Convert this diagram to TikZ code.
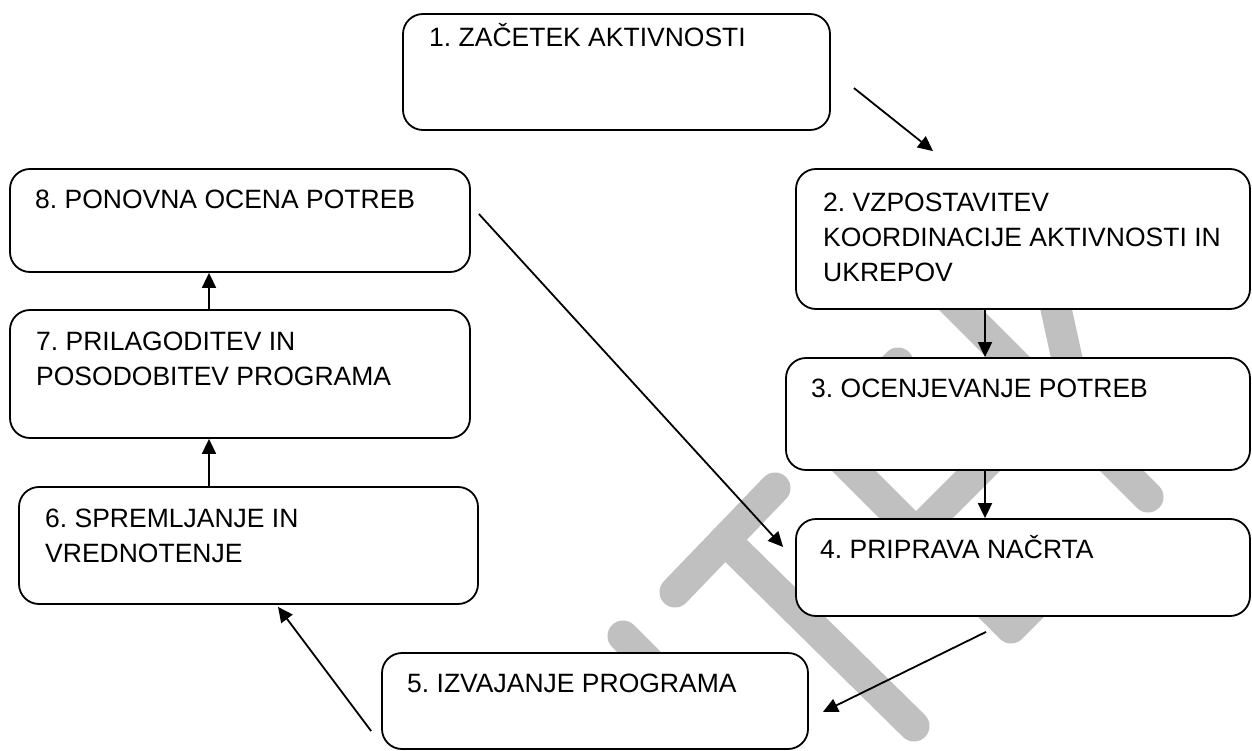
\documentclass[tikz,border=0pt]{standalone}
\usepackage{fontspec}
\setmainfont{Liberation Sans}
\usetikzlibrary{arrows.meta,calc}
\definecolor{wmgrey}{HTML}{C0C0C0}
\begin{document}
\begin{tikzpicture}[x=1pt,y=-1pt,
  box/.style={draw=black, line width=1.8pt, rounded corners=20pt, fill=white, inner sep=0pt},
  lbl/.style={anchor=base west, inner sep=0pt, font=\fontsize{26.5}{34}\selectfont\frenchspacing},
  arr/.style={draw=black, line width=1.8pt, -{Triangle[length=15pt,width=14pt]}},
  wm/.style={draw=wmgrey, line width=31pt, line cap=round, line join=round}]
\fill[white] (0,0) rectangle (1252,751);
\useasboundingbox (0,0) rectangle (1252,751);
% watermark strokes (behind the boxes)
\draw[wm] (675,592) -- (775,488);
\draw[wm] (725,540) -- (914,726);
\draw[wm] (623,636) -- (715,728);
\draw[wm] (898,363) -- (822,439) -- (1011,628) -- (1090,549);
\draw[wm] (916,533) -- (1010,439);
\draw[wm] (940,289) -- (1148,497);
\draw[wm] (1037,222) -- (1083,432) -- (1205,445);
% boxes
\node[box, minimum width=427pt, minimum height=116pt] (b1) at (616.5,72) {};
\node[box, minimum width=454pt, minimum height=140pt] (b2) at (1023,239) {};
\node[box, minimum width=464pt, minimum height=112pt] (b3) at (1018,414) {};
\node[box, minimum width=454pt, minimum height=97pt] (b4) at (1023,567.5) {};
\node[box, minimum width=426pt, minimum height=96pt] (b5) at (595,701) {};
\node[box, minimum width=459pt, minimum height=117pt] (b6) at (248.5,545.5) {};
\node[box, minimum width=460pt, minimum height=128pt] (b7) at (240,374) {};
\node[box, minimum width=460pt, minimum height=103pt] (b8) at (240,220.5) {};
% texts
\node[lbl] (t1) at (429,47) {1. ZAČETEK AKTIVNOSTI};
\node[lbl] (t2a) at (823,212) {2. VZPOSTAVITEV};
\node[lbl] (t2b) at (823,246.5) {KOORDINACIJE AKTIVNOSTI IN};
\node[lbl] (t2c) at (823,281) {UKREPOV};
\node[lbl] (t3) at (811,397) {3. OCENJEVANJE POTREB};
\node[lbl] (t4) at (820,558) {4. PRIPRAVA NAČRTA};
\node[lbl] (t5) at (407,692) {5. IZVAJANJE PROGRAMA};
\node[lbl] (t6a) at (45,527) {6. SPREMLJANJE IN};
\node[lbl] (t6b) at (45,562) {VREDNOTENJE};
\node[lbl] (t7a) at (36,350) {7. PRILAGODITEV IN};
\node[lbl] (t7b) at (36,385) {POSODOBITEV PROGRAMA};
\node[lbl] (t8) at (35,209) {8. PONOVNA OCENA POTREB};
% connectors
\coordinate (a12s) at ($(b1.east)+(23,16)$);
\coordinate (a12e) at ($(b2.north)+(-90,-17)$);
\draw[arr] (a12s) -- (a12e);
\draw[arr] ($(b2.south)+(-38,0)$) -- ($(b3.north)+(-33,0)$);
\draw[arr] ($(b3.south)+(-33,0)$) -- ($(b4.north)+(-38,0)$);
\coordinate (a84s) at ($(b8.east)+(8,-6.5)$);
\coordinate (a84e) at ($(b4.west)+(-12,-20.5)$);
\draw[arr] (a84s) -- (a84e);
\coordinate (a45s) at ($(b4.south)+(-37,15)$);
\coordinate (a45e) at ($(b5.east)+(14,11)$);
\draw[arr] (a45s) -- (a45e);
\coordinate (a56s) at ($(b5.west)+(-10,30)$);
\coordinate (a56e) at ($(b6.south)+(29.5,2)$);
\draw[arr] (a56s) -- (a56e);
\draw[arr] ($(b6.north)+(-39.5,0)$) -- ($(b7.south)+(-31,0)$);
\draw[arr] ($(b7.north)+(-31,0)$) -- ($(b8.south)+(-31,0)$);
\end{tikzpicture}
\end{document}
